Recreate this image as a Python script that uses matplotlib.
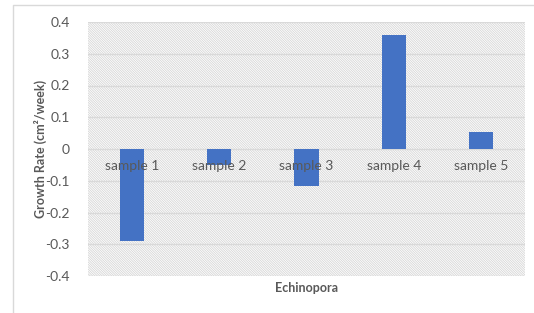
import matplotlib.pyplot as plt
from matplotlib.lines import Line2D
from matplotlib.patches import Rectangle

samples = ["sample 1", "sample 2", "sample 3", "sample 4", "sample 5"]
growth = [-0.29, -0.05, -0.117, 0.36, 0.052]
yticks = [-0.4, -0.3, -0.2, -0.1, 0, 0.1, 0.2, 0.3, 0.4]
ytick_labels = ["-0.4", "-0.3", "-0.2", "-0.1", "0", "0.1", "0.2", "0.3", "0.4"]

plt.rcParams['font.family'] = ['Lato', 'DejaVu Sans']
plt.rcParams['hatch.linewidth'] = 0.6

fig = plt.figure(figsize=(5.34, 3.13), dpi=100)
ax = fig.add_axes([88/534, 1 - 276/313, (525 - 88)/534, (276 - 22)/313])

# outer chart frame (cut off on right/bottom)
fig.add_artist(Line2D([13/534, 13/534, 1], [0, 1 - 5/313, 1 - 5/313],
                      transform=fig.transFigure, color='#d9d9d9', lw=1))

# hatched plot area
ax.add_patch(Rectangle((0, 0), 1, 1, transform=ax.transAxes, facecolor='white',
                       edgecolor='#d6d6d6', lw=0, hatch='\\' * 14, zorder=0))

x = range(len(samples))
ax.bar(x, growth, width=0.275, color='#4472c4', zorder=3)

ax.set_xlim(-0.5, len(samples) - 0.5)
ax.set_ylim(-0.4, 0.4)
ax.set_yticks(yticks)
ax.set_yticklabels(ytick_labels, color='#595959', fontsize=10)
ax.tick_params(axis='y', length=0, pad=13)
ax.set_xticks([])
for s in ax.spines.values():
    s.set_visible(False)
for v in yticks:
    ax.axhline(v, color='#d9d9d9', lw=1, zorder=1)

for i, name in enumerate(samples):
    ax.text(i, -0.055, name, ha='center', va='center', color='#595959',
            fontsize=10, zorder=4)

fig.text(40/534, 0.5 * (1 - 22/313) + 0.5 * (1 - 276/313),
         "Growth Rate (cm²/week)", rotation=90, ha='center', va='center',
         fontsize=9, fontweight='bold', color='#595959')
ax.text(0.5, -0.025, "Echinopora", transform=ax.transAxes, ha='center',
        va='top', fontsize=9, fontweight='bold', color='#595959')

fig.savefig("out.png", dpi=100)
